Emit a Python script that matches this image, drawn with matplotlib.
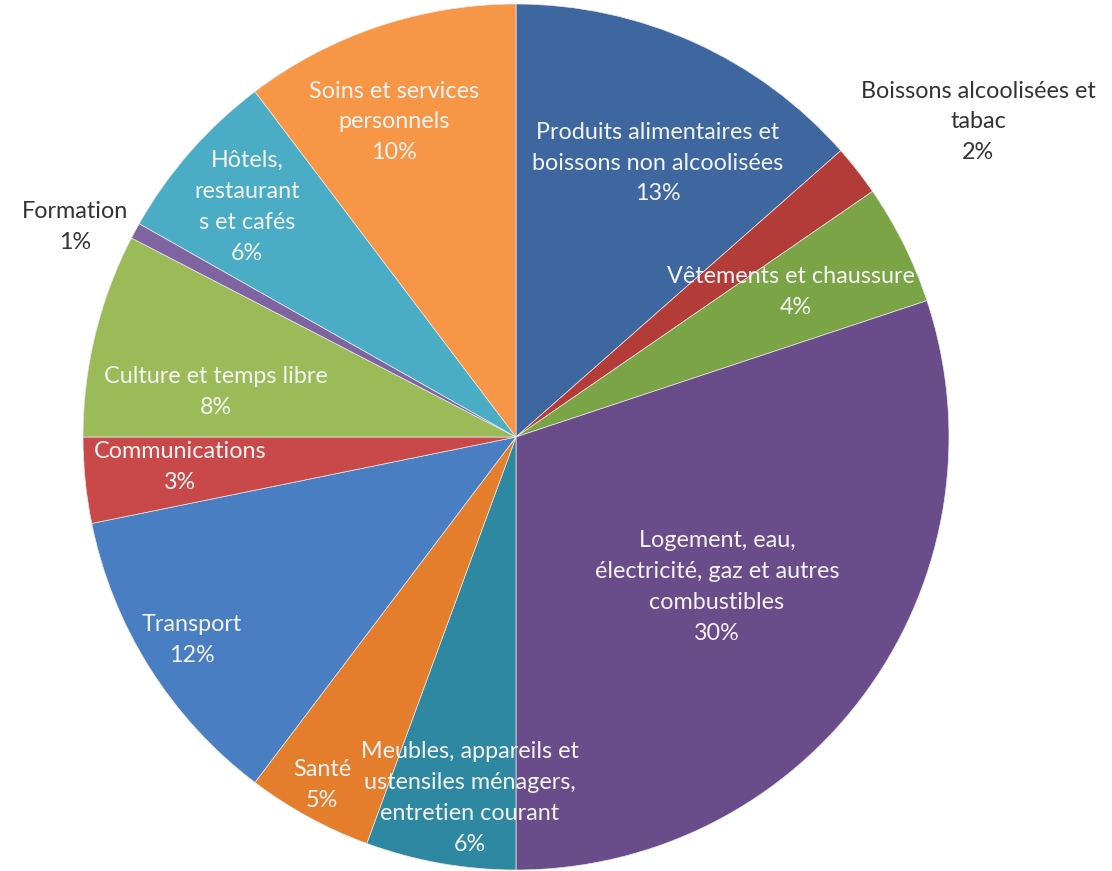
import matplotlib.pyplot as plt
from matplotlib.patches import Rectangle

plt.rcParams["font.family"] = ["Lato", "DejaVu Sans"]

W, H = 1112, 871

categories = [
    "Produits alimentaires et\nboissons non alcoolisées",
    "Boissons alcoolisées et\ntabac",
    "Vêtements et chaussures",
    "Logement, eau,\nélectricité, gaz et autres\ncombustibles",
    "Meubles, appareils et\nustensiles ménagers,\nentretien courant",
    "Santé",
    "Transport",
    "Communications",
    "Culture et temps libre",
    "Formation",
    "Hôtels,\nrestaurant\ns et cafés",
    "Soins et services\npersonnels",
]
values = [13.5, 1.9, 4.5, 30.1, 5.6, 4.7, 11.5, 3.2, 7.6, 0.6, 6.5, 10.3]
pct_labels = ["13%", "2%", "4%", "30%", "6%", "5%", "12%", "3%", "8%", "1%", "6%", "10%"]

colors = ["#3d679e", "#b43c38", "#7ba446", "#6a4c8b", "#2f88a2", "#e47d2c",
          "#4a7ec2", "#c9494a", "#9bbb59", "#8064a2", "#4bacc6", "#f79646"]

# label centres in pixels (x, y from top), and whether the label sits outside
label_xy = [(658, 163), (978, 122), (796, 292), (717, 587), (470, 798), (322, 785),
            (192, 640), (180, 467), (216, 392), (75, 227), (247, 207), (394, 122)]
outside = [False, True, False, False, False, False, False, False, False, True, False, False]

fig = plt.figure(figsize=(W / 100, H / 100), dpi=100)
ax = fig.add_axes([0, 0, 1, 1])
ax.set_xlim(0, W)
ax.set_ylim(0, H)
ax.axis("off")

ax.pie(values, colors=colors, startangle=90, counterclock=False,
       center=(516, H - 437), radius=433,
       wedgeprops=dict(linewidth=0.5, edgecolor="#e8e8e8"))
ax.set_xlim(0, W)
ax.set_ylim(0, H)

# the reference cuts the "Vêtements" label at the pie's right edge
clip = Rectangle((0, 0), 914, H, transform=ax.transData)
for name, pct, (x, y), out in zip(categories, pct_labels, label_xy, outside):
    t = ax.text(x, H - y, name + "\n" + pct, ha="center", va="center",
                fontsize=16.8, linespacing=1.58,
                color="#333333" if out else "#f4f4f4")
    if name.startswith("Vêtements"):
        t.set_clip_on(True)
        t.set_clip_path(clip)

fig.savefig("out.png", dpi=100)
